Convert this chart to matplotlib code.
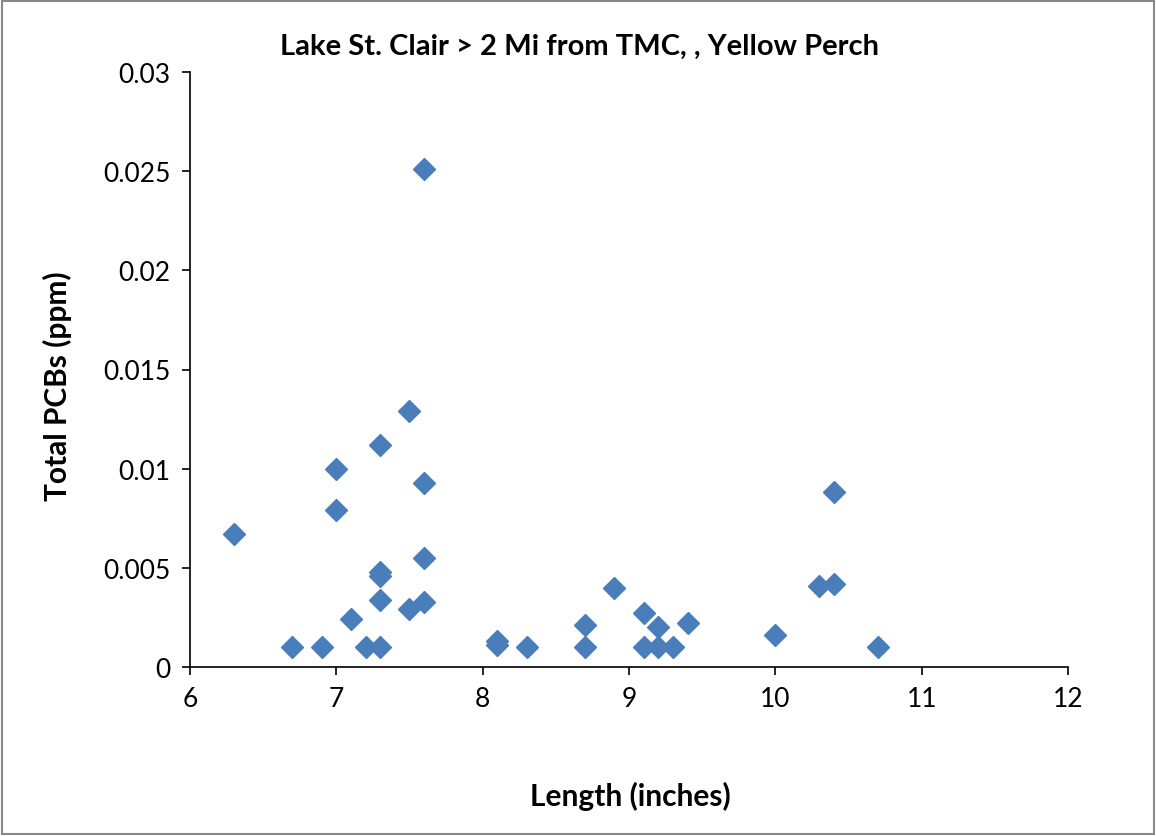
import matplotlib
matplotlib.use("Agg")
import matplotlib.pyplot as plt
from matplotlib.patches import Rectangle

length_in = [6.3, 6.7, 6.9, 7.0, 7.0, 7.1, 7.2, 7.3, 7.3, 7.3, 7.3, 7.3,
             7.5, 7.5, 7.6, 7.6, 7.6, 7.6, 8.1, 8.1, 8.3, 8.7, 8.7, 8.9,
             9.1, 9.1, 9.2, 9.2, 9.3, 9.4, 10.0, 10.3, 10.4, 10.4, 10.7]
pcb_ppm = [0.0067, 0.001, 0.001, 0.010, 0.0079, 0.0024, 0.001, 0.001, 0.0112, 0.0048, 0.0046, 0.0034,
           0.0129, 0.0029, 0.0251, 0.0093, 0.0055, 0.0033, 0.0013, 0.0011, 0.001, 0.0021, 0.001, 0.004,
           0.0027, 0.001, 0.002, 0.001, 0.001, 0.0022, 0.0016, 0.0041, 0.0042, 0.0088, 0.001]

title = "Lake St. Clair > 2 Mi from TMC, , Yellow Perch"
xlabel = "Length (inches)"
ylabel = "Total PCBs (ppm)"
xticks = [6, 7, 8, 9, 10, 11, 12]
yticks = [0, 0.005, 0.01, 0.015, 0.02, 0.025, 0.03]
ytick_labels = ["0", "0.005", "0.01", "0.015", "0.02", "0.025", "0.03"]

plt.rcParams['font.family'] = ['Lato', 'DejaVu Sans']

fig = plt.figure(figsize=(11.56, 8.37), dpi=100)
ax = fig.add_axes([190/1156, 1-668/837, (1068-190)/1156, (668-73)/837])

ax.plot(length_in, pcb_ppm, linestyle='none', marker='D', markersize=11,
        color='#4A7EBB', markeredgecolor='#4A7EBB', clip_on=False)

ax.set_xlim(6, 12)
ax.set_ylim(0, 0.03)
ax.set_xticks(xticks)
ax.set_xticklabels([str(t) for t in xticks])
ax.set_yticks(yticks)
ax.set_yticklabels(ytick_labels)
for s in ['top', 'right']:
    ax.spines[s].set_visible(False)
for s in ['left', 'bottom']:
    ax.spines[s].set_linewidth(1.2)
    ax.spines[s].set_color('black')
ax.tick_params(axis='both', direction='out', length=6, width=1.2, labelsize=19, pad=8)

fig.text(580/1156, 1-47/837, title, ha='center', va='center', fontsize=21, fontweight='bold')
fig.text(630/1156, 1-796/837, xlabel, ha='center', va='center', fontsize=21.5, fontweight='bold')
fig.text(57/1156, 1-386/837, ylabel, ha='center', va='center', rotation=90, fontsize=21.5, fontweight='bold')

fig.patches.append(Rectangle((0.002, 0.002), 0.996, 0.996, transform=fig.transFigure,
                             fill=False, edgecolor='#888888', linewidth=1.5))

fig.savefig('out.png', dpi=100, facecolor='white')
